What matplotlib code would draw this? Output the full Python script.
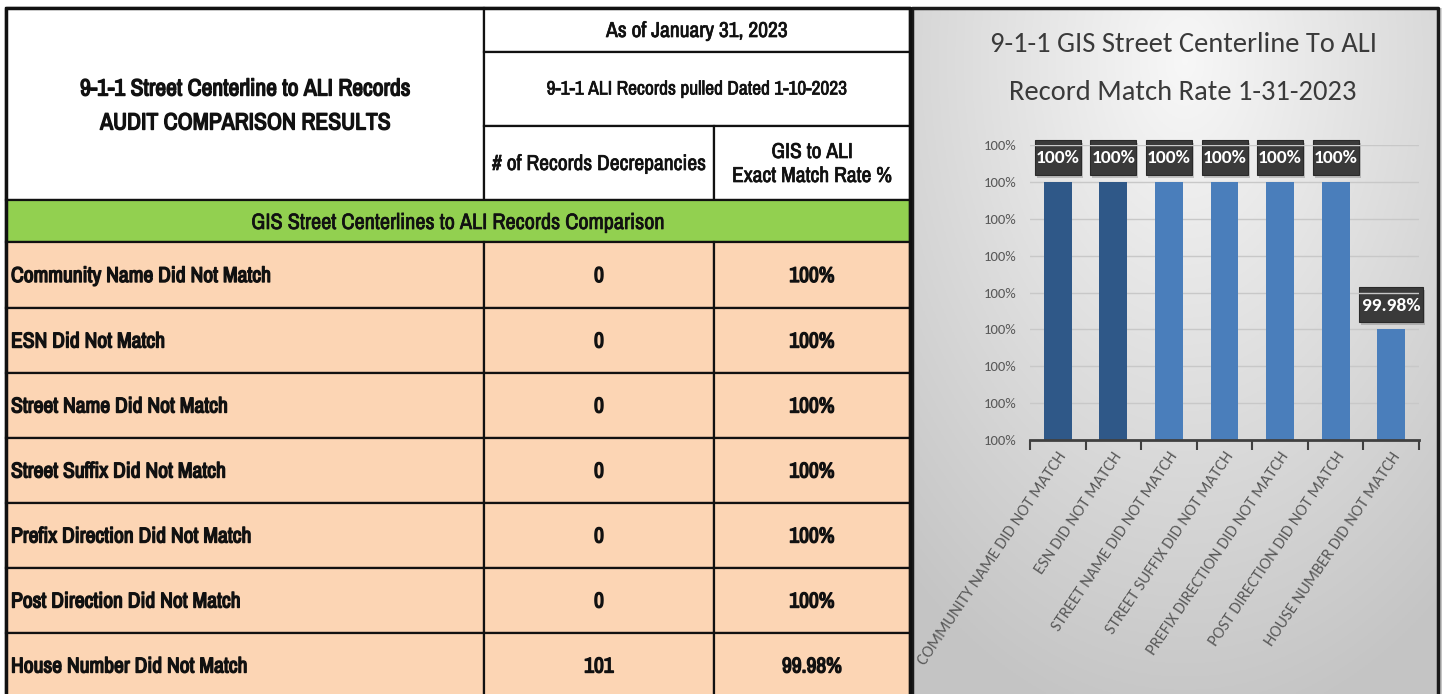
import matplotlib
matplotlib.use("Agg")
import matplotlib.pyplot as plt
import matplotlib.patheffects as pe
import numpy as np
from matplotlib.patches import Rectangle
from matplotlib.ticker import FuncFormatter

# ---- data ----
row_labels = ["Community Name Did Not Match", "ESN Did Not Match", "Street Name Did Not Match",
              "Street Suffix Did Not Match", "Prefix Direction Did Not Match",
              "Post Direction Did Not Match", "House Number Did Not Match"]
discrepancies = [0, 0, 0, 0, 0, 0, 101]
match_rate = [100, 100, 100, 100, 100, 100, 99.98]
rate_text = ["100%", "100%", "100%", "100%", "100%", "100%", "99.98%"]
bar_colors = ["#2F5888", "#2F5888", "#4A7EBB", "#4A7EBB", "#4A7EBB", "#4A7EBB", "#4A7EBB"]

TFONT = ["Archivo Narrow", "Liberation Sans Narrow", "DejaVu Sans"]
CFONT = ["Carlito", "Sofia Sans Semi Condensed", "Lato", "DejaVu Sans"]

# narrow font has no bold face here: thicken strokes instead
BOLD = [pe.withStroke(linewidth=1.0, foreground="#111111")]
SEMI = [pe.withStroke(linewidth=0.5, foreground="#111111")]

fig = plt.figure(figsize=(14.42, 6.94), dpi=100)
bg = fig.add_axes([0, 0, 1, 1])
bg.set_xlim(0, 1442); bg.set_ylim(694, 0); bg.axis("off")

# ---- right panel gradient background ----
gx = np.linspace(912, 1442, 200); gy = np.linspace(8, 694, 260)
GX, GY = np.meshgrid(gx, gy)
d = np.sqrt(((GX - 1185) / 430) ** 2 + ((GY - 60) / 680) ** 2)
shade = np.clip(0.97 - 0.2 * d, 0.77, 0.97)
bg.imshow(np.dstack([shade] * 3), extent=(912, 1442, 694, 8), aspect="auto", zorder=0)
bg.plot([912, 912, 1438, 1438], [694, 8, 8, 694], color="#1a1a1a", lw=2.5, zorder=1)

# ---- table ----
x0, x1, x2, x3 = 6, 484, 714, 910
ys = [8, 52, 126, 200, 242, 308, 373, 438, 503, 568, 633, 698]

def cell(xa, xb, ya, yb, fc):
    bg.add_patch(Rectangle((xa, ya), xb - xa, yb - ya, facecolor=fc,
                           edgecolor="#111111", lw=1.6, zorder=2))

cell(x0, x1, ys[0], ys[3], "white")
cell(x1, x3, ys[0], ys[1], "white")
cell(x1, x3, ys[1], ys[2], "white")
cell(x1, x2, ys[2], ys[3], "white")
cell(x2, x3, ys[2], ys[3], "white")
cell(x0, x3, ys[3], ys[4], "#92D050")
for i in range(len(row_labels)):
    ya, yb = ys[4 + i], ys[5 + i]
    cell(x0, x1, ya, yb, "#FCD5B4")
    cell(x1, x2, ya, yb, "#FCD5B4")
    cell(x2, x3, ya, yb, "#FCD5B4")
bg.plot([x0, x0, x3, x3], [694, ys[0], ys[0], 694], color="#111111", lw=2.5, zorder=3)

tk = dict(family=TFONT, color="#111111", zorder=4, va="center")
bg.text(245, 89, "9-1-1 Street Centerline to ALI Records", ha="center", fontsize=17,
        path_effects=BOLD, **tk)
bg.text(245, 123, "AUDIT COMPARISON RESULTS", ha="center", fontsize=17, path_effects=BOLD, **tk)
bg.text((x1 + x3) / 2, 31, "As of January 31, 2023", ha="center", fontsize=15.5,
        path_effects=SEMI, **tk)
bg.text((x1 + x3) / 2, 89, "9-1-1 ALI Records pulled Dated 1-10-2023", ha="center",
        fontsize=14, path_effects=SEMI, **tk)
bg.text((x1 + x2) / 2, 164, "# of Records Decrepancies", ha="center", fontsize=15.5,
        path_effects=SEMI, **tk)
bg.text((x2 + x3) / 2, 164, "GIS to ALI\nExact Match Rate %", ha="center", fontsize=15.5,
        linespacing=1.25, path_effects=SEMI, **tk)
bg.text((x0 + x3) / 2, 223, "GIS Street Centerlines to ALI Records Comparison", ha="center",
        fontsize=16, path_effects=SEMI, **tk)
for i, lab in enumerate(row_labels):
    yc = (ys[4 + i] + ys[5 + i]) / 2 + 1
    bg.text(11, yc, lab, ha="left", fontsize=15.5, path_effects=BOLD, **tk)
    bg.text((x1 + x2) / 2, yc, str(discrepancies[i]), ha="center", fontsize=15.5,
            path_effects=BOLD, **tk)
    bg.text((x2 + x3) / 2, yc, rate_text[i], ha="center", fontsize=15.5, path_effects=BOLD, **tk)

# ---- chart title ----
bg.text(1183, 44, "9-1-1 GIS Street Centerline To ALI", ha="center", va="center",
        fontsize=20.5, color="#3a3a3a", family=CFONT, zorder=4)
bg.text(1183, 92, "Record Match Rate 1-31-2023", ha="center", va="center",
        fontsize=20.5, color="#3a3a3a", family=CFONT, zorder=4)

# ---- bar chart ----
ax = fig.add_axes([1030 / 1442, (694 - 440) / 694, (1419 - 1030) / 1442, (440 - 145) / 694])
ax.patch.set_alpha(0)
x = np.arange(len(match_rate))
ax.bar(x, match_rate, width=0.5, color=bar_colors, zorder=2)
ax.set_xlim(-0.5, len(x) - 0.5)
ax.set_ylim(99.965, 100.005)
ax.set_yticks(np.linspace(99.965, 100.005, 9))
ax.yaxis.set_major_formatter(FuncFormatter(lambda v, p: f"{v:.0f}%"))
ax.grid(axis="y", color="#c8c8c8", lw=1, zorder=0)
for s in ["top", "right", "left"]:
    ax.spines[s].set_visible(False)
ax.spines["bottom"].set_color("#404040"); ax.spines["bottom"].set_linewidth(2)
ax.tick_params(axis="y", length=0, labelsize=10.5, labelcolor="#595959", pad=10)
ax.set_xticks(x)
ax.set_xticks(np.arange(-0.5, len(x)), minor=True)
ax.tick_params(axis="x", which="major", length=0, pad=7)
ax.tick_params(axis="x", which="minor", length=7, width=1.5, color="#404040")
ax.set_xticklabels([l.upper() for l in row_labels], rotation=56, ha="right", va="top",
                   rotation_mode="anchor", fontsize=12, color="#595959", family=CFONT)
for lab in ax.get_yticklabels():
    lab.set_family(CFONT)

# data label boxes, placed in pixel space from the bar tops
to_bg = bg.transData.inverted()
for xi, v, t in zip(x, match_rate, rate_text):
    px, py = to_bg.transform(ax.transData.transform((xi, v)))
    w, h = 10 + 9 * len(t), 35
    bg.add_patch(Rectangle((px - w / 2 + 2, py - 7 - h + 3), w, h, facecolor="#000000",
                           alpha=0.18, lw=0, zorder=5))
    bg.add_patch(Rectangle((px - w / 2, py - 7 - h), w, h, facecolor="#3a3a3a",
                           edgecolor="#2a2a2a", lw=0.8, zorder=6))
    bg.text(px, py - 7 - h / 2 + 1, t, ha="center", va="center", fontsize=14, color="white",
            family=CFONT, weight="semibold", zorder=7)

fig.savefig("out.png", dpi=100)
